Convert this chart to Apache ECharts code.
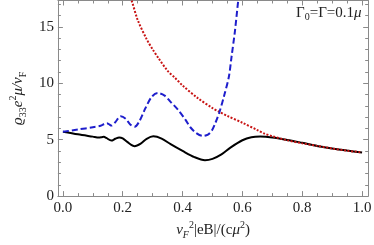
<!DOCTYPE html>
<html><head><meta charset="utf-8">
<script src="https://cdn.jsdelivr.net/npm/echarts@6/dist/echarts.min.js"></script>
<style>html,body{margin:0;padding:0;background:#fff}#c{width:374px;height:245px}</style>
</head><body><div id="c"></div>
<script>
// x tick labels and y tick labels
const xTicks = [0, 0.2, 0.4, 0.6, 0.8, 1.0];
const xMinorTicks = [0.05,0.1,0.15,0.25,0.3,0.35,0.45,0.5,0.55,0.65,0.7,0.75,0.85,0.9,0.95];
const yTicks = [0, 5, 10, 15];
const yMinorTicks = [1,2,3,4,6,7,8,9,11,12,13,14,16,17];

// black solid curve
const blackX = [0,0.05,0.1,0.12,0.13,0.137,0.145,0.162,0.175,0.188,0.2,0.215,0.24,0.26,0.28,0.302,0.33,0.36,0.4,0.44,0.475,0.5,0.53,0.56,0.6,0.63,0.66,0.7,0.75,0.8,0.86,0.9,0.95,1.0];
const blackY = [5.7,5.47,5.27,5.19,5.22,5.25,5.15,4.92,5.08,5.2,5.12,4.8,4.42,4.65,5.08,5.3,5.1,4.6,4.0,3.45,3.18,3.3,3.7,4.3,4.95,5.22,5.28,5.2,4.98,4.72,4.4,4.22,4.03,3.86];

// blue dashed curve
const blueX = [0,0.05,0.1,0.126,0.14,0.147,0.155,0.162,0.175,0.193,0.21,0.225,0.24,0.255,0.276,0.297,0.317,0.34,0.36,0.385,0.41,0.426,0.445,0.467,0.485,0.498,0.51,0.524,0.54,0.555,0.5635,0.575,0.586,0.592];
const blueY = [5.7,5.9,6.1,6.23,6.42,6.46,6.35,6.25,6.55,7.07,6.85,6.35,6.15,6.6,7.8,8.8,9.13,8.9,8.35,7.64,6.75,6.1,5.6,5.33,5.45,5.81,6.5,7.5,9.0,10.6,12.3,14.6,17.3,18.5];

// red dotted curve
const redX = [0.22,0.23,0.25,0.28,0.3,0.32,0.35,0.374,0.4,0.45,0.5,0.524,0.55,0.6,0.65,0.674,0.7,0.75,0.8,0.85,0.9,0.95,1.0];
const redY = [17.9,17.3,15.6,13.9,13.0,12.2,11.1,10.5,9.8,8.7,7.8,7.45,7.1,6.5,5.85,5.53,5.3,4.95,4.68,4.45,4.22,4.03,3.86];

const XMIN = -0.0168, XMAX = 1.0205, YMIN = 0, YMAX = 17.33;
const serif = 'Liberation Serif';
const frame = '#8a8a8a';

function zip(a, b){ return a.map((v,i)=>[v,b[i]]); }

function mkAxis(pos, vals, len, showLine, isX, withLabel){
  const ax = {
    type:'value', position:pos, min: isX?XMIN:YMIN, max: isX?XMAX:YMAX,
    axisLine:{show:showLine, onZero:false, lineStyle:{color:frame, width:1}},
    axisTick:{show:true, inside:true, length:len, customValues: vals, lineStyle:{color:frame, width:1}},
    axisLabel:{show:withLabel, customValues: vals, color:'#222', fontFamily:serif, fontSize:15, margin:4,
      formatter: isX ? (v)=>v.toFixed(1) : (v)=>String(Math.round(v))},
    splitLine:{show:false}
  };
  return ax;
}

const xAxes = [
  Object.assign(mkAxis('bottom', xTicks, 5, true, true, true), {
    name:'{i|v}{s|F}{p|2}{n||eB|/(c}{i|μ}{p|2}{n|)}', nameLocation:'middle', nameGap:22,
    nameTextStyle:{fontFamily:serif, fontSize:15, color:'#222', rich:{
      i:{fontFamily:serif, fontStyle:'italic', fontSize:15, lineHeight:20, verticalAlign:'middle'},
      n:{fontFamily:serif, fontSize:15, lineHeight:20, verticalAlign:'middle'},
      s:{fontFamily:serif, fontStyle:'italic', fontSize:10, lineHeight:20, verticalAlign:'bottom'},
      p:{fontFamily:serif, fontSize:10, lineHeight:20, verticalAlign:'top'}
    }}
  }),
  mkAxis('bottom', xMinorTicks, 3, false, true, false),
  mkAxis('top', xTicks, 5, true, true, false),
  mkAxis('top', xMinorTicks, 3, false, true, false)
];
const yAxes = [
  Object.assign(mkAxis('left', yTicks, 5, true, false, true), {
    name:'{i|ϱ}{s|33}{i|e}{p|2}{i|μ/v}{s|F}', nameLocation:'middle', nameGap:19, nameRotate:90,
    nameTextStyle:{fontFamily:serif, fontSize:15, color:'#222', rich:{
      i:{fontFamily:serif, fontStyle:'italic', fontSize:15, lineHeight:20, verticalAlign:'middle'},
      s:{fontFamily:serif, fontSize:10, lineHeight:20, verticalAlign:'bottom'},
      p:{fontFamily:serif, fontSize:10, lineHeight:20, verticalAlign:'top'}
    }}
  }),
  mkAxis('left', yMinorTicks, 3, false, false, false),
  mkAxis('right', yTicks, 5, true, false, false),
  mkAxis('right', yMinorTicks, 3, false, false, false)
];

const chart = echarts.init(document.getElementById('c'), null, {renderer:'canvas'});
chart.setOption({
  animation:false,
  backgroundColor:'#fff',
  grid:{left:37.3, right:2.3, top:0.5, bottom:39.5, containLabel:false},
  xAxis:xAxes, yAxis:yAxes,
  graphic:[{type:'text', left:296, top:6, style:{
    text:'{g|Γ}{s|0}{g|=Γ=0.1}{i|μ}', fill:'#222', font:'15px '+serif,
    rich:{g:{fontFamily:serif,fontSize:15,lineHeight:18,verticalAlign:'middle'},
          s:{fontFamily:serif,fontSize:10,lineHeight:18,verticalAlign:'bottom'},
          i:{fontFamily:serif,fontStyle:'italic',fontSize:15,lineHeight:18,verticalAlign:'middle'}}
  }}],
  series:[
    {type:'line', data:zip(redX, redY), smooth:0.3, symbol:'none', clip:true,
     lineStyle:{color:'#c81414', width:2, type:[2,1.6]}, z:3},
    {type:'line', data:zip(blueX, blueY), smooth:0.3, symbol:'none', clip:true,
     lineStyle:{color:'#1e1ecc', width:2, type:[6,3]}, z:4},
    {type:'line', data:zip(blackX, blackY), smooth:0.3, symbol:'none', clip:true,
     lineStyle:{color:'#000', width:2}, z:2}
  ]
});
</script></body></html>
